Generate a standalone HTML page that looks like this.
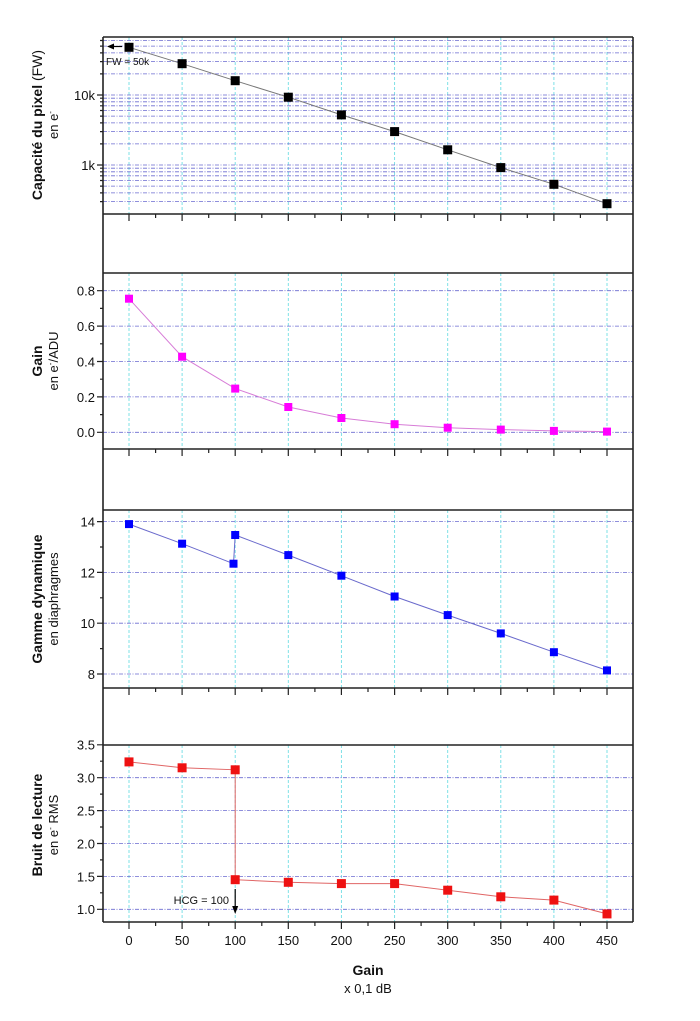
<!DOCTYPE html>
<html><head><meta charset="utf-8"><style>body{margin:0;background:#fff}svg{display:block;font-family:"Liberation Sans",sans-serif}</style></head><body>
<svg width="700" height="1021" viewBox="0 0 700 1021" xmlns="http://www.w3.org/2000/svg">
<defs>
<g id="vg"><g stroke="#7fe0e6" stroke-width="0.9" stroke-dasharray="3,2">
<line x1="129" y1="0" x2="129" y2="1"/></g></g>
</defs>
<!-- vertical cyan grid -->
<g stroke="#70dde4" stroke-width="0.9" stroke-dasharray="3,2">
<path d="M129 37V214M182.1 37V214M235.2 37V214M288.3 37V214M341.4 37V214M394.6 37V214M447.7 37V214M500.8 37V214M553.9 37V214M607 37V214"/>
<path d="M129 273V449M182.1 273V449M235.2 273V449M288.3 273V449M341.4 273V449M394.6 273V449M447.7 273V449M500.8 273V449M553.9 273V449M607 273V449"/>
<path d="M129 510V688M182.1 510V688M235.2 510V688M288.3 510V688M341.4 510V688M394.6 510V688M447.7 510V688M500.8 510V688M553.9 510V688M607 510V688"/>
<path d="M129 745V922M182.1 745V922M235.2 745V922M288.3 745V922M341.4 745V922M394.6 745V922M447.7 745V922M500.8 745V922M553.9 745V922M607 745V922"/>
</g>
<!-- horizontal blue grid -->
<g stroke="#6a6ad0" stroke-width="0.8" stroke-dasharray="4,1.5,1,1.5">
<path d="M103 40.5H633M103 46.1H633M103 52.9H633M103 61.6H633M103 73.9H633M103 95H633M103 98.2H633M103 101.8H633M103 105.8H633M103 110.5H633M103 116.1H633M103 122.9H633M103 131.6H633M103 143.9H633M103 165H633M103 168.2H633M103 171.8H633M103 175.8H633M103 180.5H633M103 186.1H633M103 192.9H633M103 201.6H633"/>
<path d="M103 290.7H633M103 326.1H633M103 361.5H633M103 396.9H633M103 432.3H633"/>
<path d="M103 521.6H633M103 572.4H633M103 623.2H633M103 674H633"/>
<path d="M103 777.7H633M103 810.6H633M103 843.5H633M103 876.4H633M103 909.3H633"/>
</g>
<!-- frames -->
<g stroke="#222" stroke-width="1.6" fill="none">
<path d="M103 37V922M633 37V922M103 37H633M103 214H633M103 273H633M103 449H633M103 510H633M103 688H633M103 745H633M103 922H633"/>
</g>
<!-- x ticks -->
<g stroke="#222" stroke-width="1.2">
<path d="M129 214v7M182.1 214v7M235.2 214v7M288.3 214v7M341.4 214v7M394.6 214v7M447.7 214v7M500.8 214v7M553.9 214v7M607 214v7M155.6 214v4M208.7 214v4M261.8 214v4M314.9 214v4M368 214v4M421.1 214v4M474.2 214v4M527.3 214v4M580.4 214v4"/>
<path d="M129 449v7M182.1 449v7M235.2 449v7M288.3 449v7M341.4 449v7M394.6 449v7M447.7 449v7M500.8 449v7M553.9 449v7M607 449v7M155.6 449v4M208.7 449v4M261.8 449v4M314.9 449v4M368 449v4M421.1 449v4M474.2 449v4M527.3 449v4M580.4 449v4"/>
<path d="M129 688v7M182.1 688v7M235.2 688v7M288.3 688v7M341.4 688v7M394.6 688v7M447.7 688v7M500.8 688v7M553.9 688v7M607 688v7M155.6 688v4M208.7 688v4M261.8 688v4M314.9 688v4M368 688v4M421.1 688v4M474.2 688v4M527.3 688v4M580.4 688v4"/>
<path d="M129 922v7M182.1 922v7M235.2 922v7M288.3 922v7M341.4 922v7M394.6 922v7M447.7 922v7M500.8 922v7M553.9 922v7M607 922v7M155.6 922v4M208.7 922v4M261.8 922v4M314.9 922v4M368 922v4M421.1 922v4M474.2 922v4M527.3 922v4M580.4 922v4"/>
<!-- y ticks -->
<path d="M103 95h-6M103 165h-6M103 40.5h-3M103 46.1h-3M103 52.9h-3M103 61.6h-3M103 73.9h-3M103 98.2h-3M103 101.8h-3M103 105.8h-3M103 110.5h-3M103 116.1h-3M103 122.9h-3M103 131.6h-3M103 143.9h-3M103 168.2h-3M103 171.8h-3M103 175.8h-3M103 180.5h-3M103 186.1h-3M103 192.9h-3M103 201.6h-3"/>
<path d="M103 290.7h-6M103 326.1h-6M103 361.5h-6M103 396.9h-6M103 432.3h-6M103 308.4h-3M103 343.8h-3M103 379.2h-3M103 414.6h-3"/>
<path d="M103 521.6h-6M103 572.4h-6M103 623.2h-6M103 674h-6M103 547h-3M103 597.8h-3M103 648.6h-3"/>
<path d="M103 744.8h-6M103 777.7h-6M103 810.6h-6M103 843.5h-6M103 876.4h-6M103 909.3h-6M103 761.2h-3M103 794.1h-3M103 827h-3M103 859.9h-3M103 892.8h-3"/>
</g>
<!-- y tick labels -->
<g font-size="13" fill="#111" text-anchor="end">
<text x="95" y="100">10k</text><text x="95" y="170">1k</text>
<text x="95" y="295.5">0.8</text><text x="95" y="331">0.6</text><text x="95" y="366.5">0.4</text><text x="95" y="402">0.2</text><text x="95" y="437">0.0</text>
<text x="95" y="526.5">14</text><text x="95" y="577.5">12</text><text x="95" y="628">10</text><text x="95" y="679">8</text>
<text x="95" y="749.5">3.5</text><text x="95" y="782.5">3.0</text><text x="95" y="815.5">2.5</text><text x="95" y="848.5">2.0</text><text x="95" y="881.5">1.5</text><text x="95" y="914">1.0</text>
</g>
<!-- x tick labels -->
<g font-size="13" fill="#111" text-anchor="middle">
<text x="129" y="945">0</text><text x="182.1" y="945">50</text><text x="235.2" y="945">100</text><text x="288.3" y="945">150</text><text x="341.4" y="945">200</text><text x="394.6" y="945">250</text><text x="447.7" y="945">300</text><text x="500.8" y="945">350</text><text x="553.9" y="945">400</text><text x="607" y="945">450</text>
<text x="368" y="975" font-weight="bold" font-size="14">Gain</text>
<text x="368" y="993">x 0,1 dB</text>
</g>
<!-- y titles -->
<g fill="#111" text-anchor="middle">
<text transform="translate(42,125) rotate(-90)" font-weight="bold" font-size="14">Capacité du pixel <tspan font-weight="normal">(FW)</tspan></text>
<text transform="translate(58,125) rotate(-90)" font-size="13">en e<tspan dy="-5" font-size="8">-</tspan></text>
<text transform="translate(42,361) rotate(-90)" font-weight="bold" font-size="14">Gain</text>
<text transform="translate(58,361) rotate(-90)" font-size="13">en e<tspan dy="-5" font-size="8">-</tspan><tspan dy="5">/ADU</tspan></text>
<text transform="translate(42,599) rotate(-90)" font-weight="bold" font-size="14">Gamme dynamique</text>
<text transform="translate(58,599) rotate(-90)" font-size="13">en diaphragmes</text>
<text transform="translate(42,825) rotate(-90)" font-weight="bold" font-size="14">Bruit de lecture</text>
<text transform="translate(58,825) rotate(-90)" font-size="13">en e<tspan dy="-5" font-size="8">-</tspan><tspan dy="5"> RMS</tspan></text>
</g>
<!-- series 1 -->
<polyline fill="none" stroke="#777" stroke-width="1" points="129,47.3 182.1,63.7 235.2,80.7 288.3,97.2 341.4,114.9 394.6,131.6 447.7,149.8 500.8,167.6 553.9,184.3 607,203.7"/>
<g fill="#000">
<rect x="124.5" y="42.8" width="9" height="9"/><rect x="177.6" y="59.2" width="9" height="9"/><rect x="230.7" y="76.2" width="9" height="9"/><rect x="283.8" y="92.7" width="9" height="9"/><rect x="336.9" y="110.4" width="9" height="9"/><rect x="390.1" y="127.1" width="9" height="9"/><rect x="443.2" y="145.3" width="9" height="9"/><rect x="496.3" y="163.1" width="9" height="9"/><rect x="549.4" y="179.8" width="9" height="9"/><rect x="602.5" y="199.2" width="9" height="9"/>
</g>
<path d="M122 46.5H114" stroke="#000" stroke-width="1.2"/><path d="M107 46.5l7-3v6z" fill="#000"/>
<text x="106" y="65" font-size="10" fill="#111">FW = 50k</text>
<!-- series 2 -->
<polyline fill="none" stroke="#d77cd7" stroke-width="1" points="129,298.7 182.1,356.7 235.2,388.6 288.3,407 341.4,418 394.6,424.2 447.7,427.7 500.8,429.6 553.9,430.9 607,431.6"/>
<g fill="#ff00ff">
<rect x="125" y="294.7" width="8" height="8"/><rect x="178.1" y="352.7" width="8" height="8"/><rect x="231.2" y="384.6" width="8" height="8"/><rect x="284.3" y="403" width="8" height="8"/><rect x="337.4" y="414" width="8" height="8"/><rect x="390.6" y="420.2" width="8" height="8"/><rect x="443.7" y="423.7" width="8" height="8"/><rect x="496.8" y="425.6" width="8" height="8"/><rect x="549.9" y="426.9" width="8" height="8"/><rect x="603" y="427.6" width="8" height="8"/>
</g>
<!-- series 3 -->
<polyline fill="none" stroke="#6a6acc" stroke-width="1" points="129,524.1 182.1,543.7 233.5,563.7 235.2,535 288.3,555.1 341.4,575.7 394.6,596.5 447.7,615.1 500.8,633.4 553.9,652.2 607,670.4"/>
<g fill="#0000ff">
<rect x="125" y="520.1" width="8" height="8"/><rect x="178.1" y="539.7" width="8" height="8"/><rect x="229.5" y="559.7" width="8" height="8"/><rect x="231.2" y="531" width="8" height="8"/><rect x="284.3" y="551.1" width="8" height="8"/><rect x="337.4" y="571.7" width="8" height="8"/><rect x="390.6" y="592.5" width="8" height="8"/><rect x="443.7" y="611.1" width="8" height="8"/><rect x="496.8" y="629.4" width="8" height="8"/><rect x="549.9" y="648.2" width="8" height="8"/><rect x="603" y="666.4" width="8" height="8"/>
</g>
<!-- series 4 -->
<polyline fill="none" stroke="#e06565" stroke-width="1" points="129,761.9 182.1,767.8 235.2,769.8 235.2,879.7 288.3,882.3 341.4,883.6 394.6,883.6 447.7,890.2 500.8,896.8 553.9,900.1 607,913.9"/>
<g fill="#ee1111">
<rect x="124.5" y="757.4" width="9" height="9"/><rect x="177.6" y="763.3" width="9" height="9"/><rect x="230.7" y="765.3" width="9" height="9"/><rect x="230.7" y="875.2" width="9" height="9"/><rect x="283.8" y="877.8" width="9" height="9"/><rect x="336.9" y="879.1" width="9" height="9"/><rect x="390.1" y="879.1" width="9" height="9"/><rect x="443.2" y="885.7" width="9" height="9"/><rect x="496.3" y="892.3" width="9" height="9"/><rect x="549.4" y="895.6" width="9" height="9"/><rect x="602.5" y="909.4" width="9" height="9"/>
</g>
<path d="M235.2 889V906" stroke="#000" stroke-width="1.2"/><path d="M235.2 914l-3-8h6z" fill="#000"/>
<text x="229" y="904" font-size="11" fill="#111" text-anchor="end">HCG = 100</text>
</svg>
</body></html>
